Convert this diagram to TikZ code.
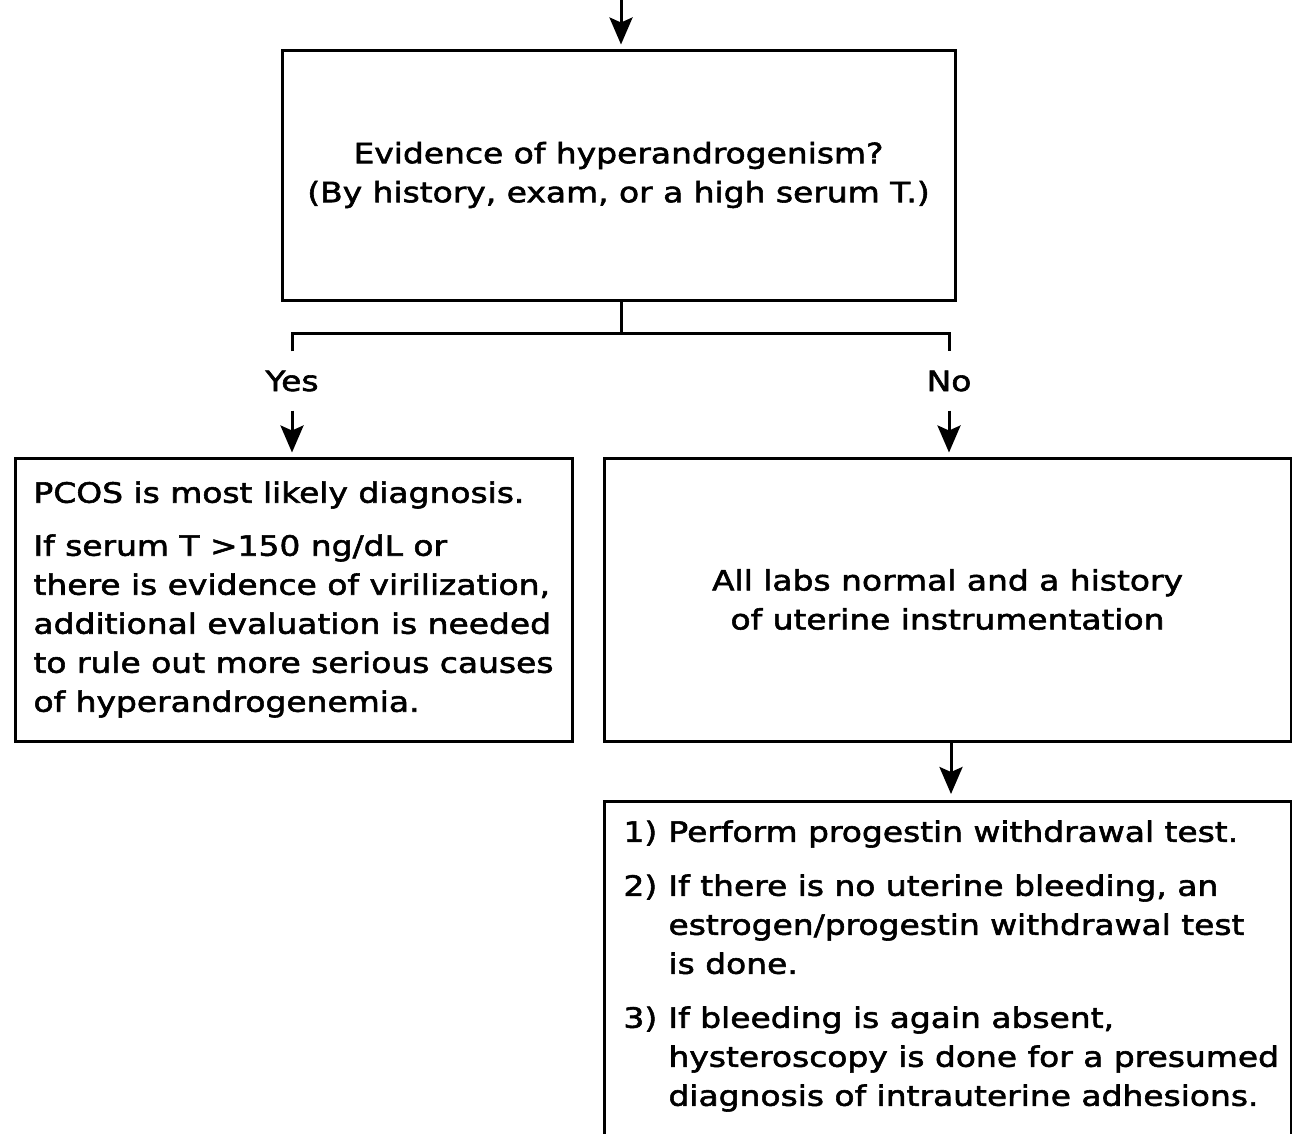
\documentclass[tikz,border=0pt]{standalone}
\usepackage{fontspec}
\setmainfont{DejaVu Sans}[FakeStretch=1.175,FakeBold=2]
\usetikzlibrary{arrows.meta}
% Hanging-indent numbered step for the workup list
\newcommand{\stepitem}[2]{\par\hangindent=45pt\hangafter=1\noindent\makebox[45pt][l]{#1}#2}
\begin{document}
\begin{tikzpicture}[x=1pt,y=-1pt,
  txt/.style={font=\fontsize{28}{39}\selectfont},
  box/.style={draw,line width=3pt,inner sep=0pt,txt},
  lbl/.style={txt,inner sep=19pt},
  conn/.style={line width=3pt},
  arr/.style={conn,-{Stealth[length=27pt,width=23pt,inset=5pt]}}]
\useasboundingbox (0,0) rectangle (1292,1133);

% Question box
\node[box,minimum width=673pt,minimum height=250pt,align=center] (q) at (618.5,175)
  {Evidence of hyperandrogenism?\\(By history, exam, or a high serum T.)};

% Outcome boxes
\node[box,minimum width=557pt,minimum height=283pt,align=left] (pcos) at (293.5,599.5)
  {PCOS is most likely diagnosis.\\[14pt]
   If serum T >150 ng/dL or\\
   there is evidence of virilization,\\
   additional evaluation is needed\\
   to rule out more serious causes\\
   of hyperandrogenemia.};
\node[box,minimum width=687pt,minimum height=283pt,align=center] (labs) at (947.5,599.5)
  {All labs normal and a history\\of uterine instrumentation};

% Workup steps (box runs past the lower edge)
\node[box,anchor=north west,inner ysep=19pt] (steps) at (603,800)
  {\hspace*{19pt}\begin{minipage}[t][330pt][t]{668pt}
   \fontsize{28}{39}\selectfont\raggedright\parskip=15pt
   \stepitem{1)}{Perform progestin withdrawal test.}
   \stepitem{2)}{If there is no uterine bleeding, an\newline estrogen/progestin withdrawal test\newline is done.}
   \stepitem{3)}{If bleeding is again absent,\newline hysteroscopy is done for a presumed\newline diagnosis of intrauterine adhesions.}
   \end{minipage}};

% Branch labels
\node[lbl] (yes) at (292,381) {Yes};
\node[lbl] (no) at (949,381) {No};

% Connectors
\coordinate (entry) at (621,0);
\coordinate (split) at (621,333);
\draw[arr,shorten >=4pt] (entry) -- (q.north -| entry);
\draw[conn] (q.south -| split) -- (split);
\draw[conn] (yes.north) |- (split) -| (no.north);
\draw[arr,shorten >=4pt] (yes.south) -- (yes.south |- pcos.north);
\draw[arr,shorten >=4pt] (no.south) -- (no.south |- labs.north);
\draw[arr,shorten >=6pt] ([xshift=3.5pt]labs.south) -- ([xshift=3.5pt]labs.south |- steps.north);
\end{tikzpicture}
\end{document}
